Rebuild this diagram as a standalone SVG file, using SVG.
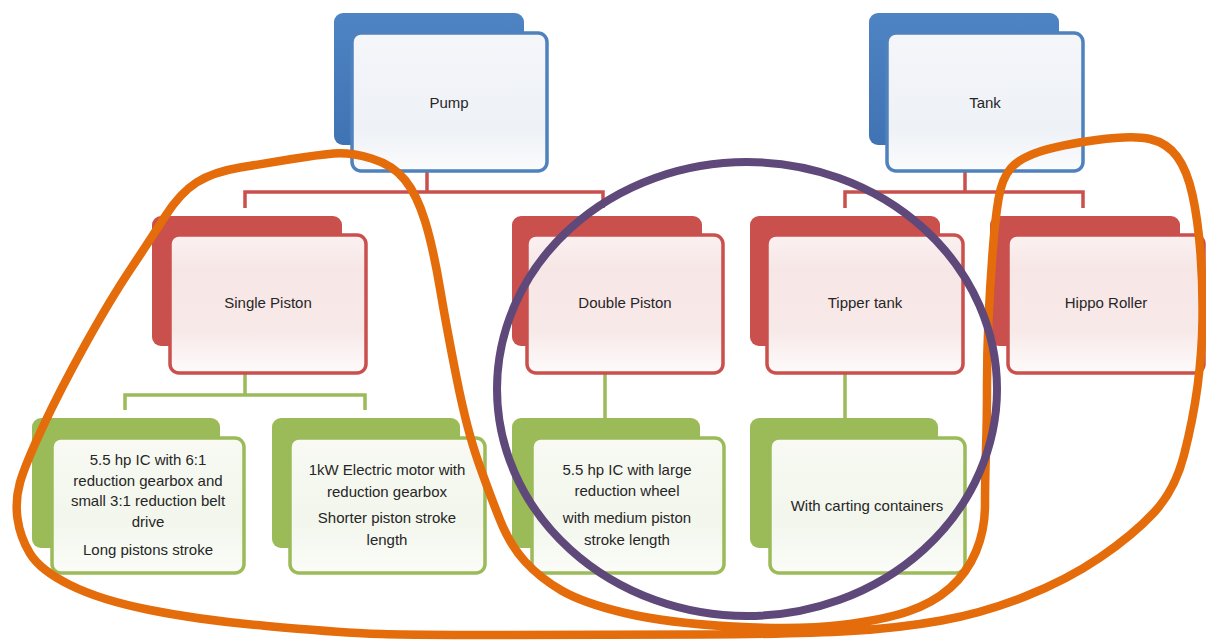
<svg xmlns="http://www.w3.org/2000/svg" width="1206" height="642" viewBox="0 0 1206 642">
<defs>
<linearGradient id="gB" x1="0" y1="0" x2="0" y2="1"><stop offset="0" stop-color="#f4f6fa"/><stop offset="0.7" stop-color="#eef1f6"/><stop offset="1" stop-color="#fbfcfd"/></linearGradient>
<linearGradient id="gR" x1="0" y1="0" x2="0" y2="1"><stop offset="0" stop-color="#fbf1f1"/><stop offset="0.25" stop-color="#f7e6e6"/><stop offset="0.7" stop-color="#f8e9e9"/><stop offset="1" stop-color="#fefbfb"/></linearGradient>
<linearGradient id="gG" x1="0" y1="0" x2="0" y2="1"><stop offset="0" stop-color="#f8faf3"/><stop offset="0.6" stop-color="#f2f6ec"/><stop offset="1" stop-color="#fbfcf8"/></linearGradient>
<linearGradient id="gBb" x1="0" y1="0" x2="0" y2="1"><stop offset="0" stop-color="#4f84c4"/><stop offset="1" stop-color="#3f73b3"/></linearGradient>
</defs>
<style>
text{font-family:"Liberation Sans",Arial,sans-serif;font-size:15px;fill:#262626;text-anchor:middle}
.bb{fill:url(#gBb)}
.bf{fill:url(#gB);stroke:#4f81bd;stroke-width:3.5}
.rb{fill:#c9504d}
.rf{fill:url(#gR);stroke:#c9504d;stroke-width:3.5}
.gb{fill:#9bbb59}
.gf{fill:url(#gG);stroke:#9bbb59;stroke-width:3.5}
.cr{fill:none;stroke:#c9504d;stroke-width:3.5}
.cg{fill:none;stroke:#9bbb59;stroke-width:3.5}
</style>
<rect width="1206" height="642" fill="#ffffff"/>
<g id="connectors">
<path class="cr" d="M427,172V192M245,208V192H603V208"/>
<path class="cr" d="M965,172V192M845,208V192H1083V208"/>
<path class="cg" d="M245,373V395M125,410V395H365V410"/>
<path class="cg" d="M605,373V418"/>
<path class="cg" d="M845,373V418"/>
</g>
<g id="pump"><rect class="bb" x="334" y="13" width="190" height="132" rx="9"/><rect class="bf" x="352" y="33" width="195" height="138" rx="9"/><text x="449" y="108">Pump</text></g>
<g id="tank"><rect class="bb" x="869" y="13" width="190" height="132" rx="9"/><rect class="bf" x="887" y="33" width="196" height="138" rx="9"/><text x="985" y="108">Tank</text></g>
<g id="single-piston"><rect class="rb" x="152" y="216" width="190" height="130" rx="9"/><rect class="rf" x="170" y="235" width="196" height="138" rx="9"/><text x="268" y="308">Single Piston</text></g>
<g id="double-piston"><rect class="rb" x="512" y="216" width="190" height="130" rx="9"/><rect class="rf" x="527" y="235" width="196" height="138" rx="9"/><text x="625" y="308">Double Piston</text></g>
<g id="tipper-tank"><rect class="rb" x="750" y="216" width="190" height="130" rx="9"/><rect class="rf" x="767" y="235" width="196" height="138" rx="9"/><text x="865" y="308">Tipper tank</text></g>
<g id="hippo-roller"><rect class="rb" x="990" y="216" width="190" height="130" rx="9"/><rect class="rf" x="1008" y="235" width="196" height="138" rx="9"/><text x="1106" y="308">Hippo Roller</text></g>
<g id="ic-6-1"><rect class="gb" x="32" y="418" width="188" height="130" rx="9"/><rect class="gf" x="52" y="438" width="192" height="135" rx="9"/>
<text x="148" y="465">5.5 hp IC with 6:1</text><text x="148" y="486">reduction gearbox and</text><text x="148" y="506">small 3:1 reduction belt</text><text x="148" y="527">drive</text><text x="148" y="555">Long pistons stroke</text></g>
<g id="electric-motor"><rect class="gb" x="272" y="418" width="188" height="130" rx="9"/><rect class="gf" x="290" y="438" width="195" height="135" rx="9"/>
<text x="387" y="475">1kW Electric motor with</text><text x="387" y="497">reduction gearbox</text><text x="387" y="523">Shorter piston stroke</text><text x="387" y="545">length</text></g>
<g id="ic-large-wheel"><rect class="gb" x="512" y="418" width="188" height="130" rx="9"/><rect class="gf" x="532" y="438" width="192" height="135" rx="9"/>
<text x="627" y="475">5.5 hp IC with large</text><text x="627" y="496">reduction wheel</text><text x="627" y="523">with medium piston</text><text x="627" y="545">stroke length</text></g>
<g id="carting-containers"><rect class="gb" x="750" y="418" width="188" height="130" rx="9"/><rect class="gf" x="770" y="438" width="195" height="135" rx="9"/>
<text x="867" y="511">With carting containers</text></g>
<g id="annotations" fill="none" stroke-linecap="round" stroke-linejoin="round">
<path stroke="#e46c0a" stroke-width="8.5" d="M333.5,153.5 Q350,152 371.5,158.5 Q393,165 405,180 Q417,195 425,221 Q433,247 440,288.5 Q447,330 457,380 Q467,430 478.5,462.5 Q490,495 500,520 Q510,545 525,561.5 Q540,578 561.5,590.5 Q583,603 625,613 Q667,623 733.5,626.5 Q800,630 841.5,625 Q883,620 908,611.5 Q933,603 950,588 Q967,573 976,551.5 Q985,530 985,505 Q985,480 986,450 Q987,420 987,386.5 Q987,353 988.5,320 Q990,287 992.5,253.5 Q995,220 998.5,199 Q1002,178 1011,168 Q1020,158 1040,151.5 Q1060,145 1096.5,140 Q1133,135 1150,139 Q1167,143 1177,156.5 Q1187,170 1192.5,195 Q1198,220 1200.5,253.5 Q1203,287 1202.5,320 Q1202,353 1197.5,386.5 Q1193,420 1184,455 Q1175,490 1154,512.5 Q1133,535 1100,557.5 Q1067,580 1025,596.5 Q983,613 941.5,620.5 Q900,628 850,631 Q800,634 700,634.5 Q600,635 500,635 Q400,635 366.5,633.5 Q333,632 266.5,626 Q200,620 150,610 Q100,600 70,585 Q40,570 30,553.5 Q20,537 17.5,518.5 Q15,500 20,482.5 Q25,465 42.5,427.5 Q60,390 85,345 Q110,300 130,270 Q150,240 165,216.5 Q180,193 196.5,182.5 Q213,172 240,167.5 Q267,163 292,159 Q317,155 333.5,153.5Z"/>
<ellipse cx="747" cy="389" rx="250" ry="227" stroke="#5f497a" stroke-width="8"/>
</g>
</svg>
